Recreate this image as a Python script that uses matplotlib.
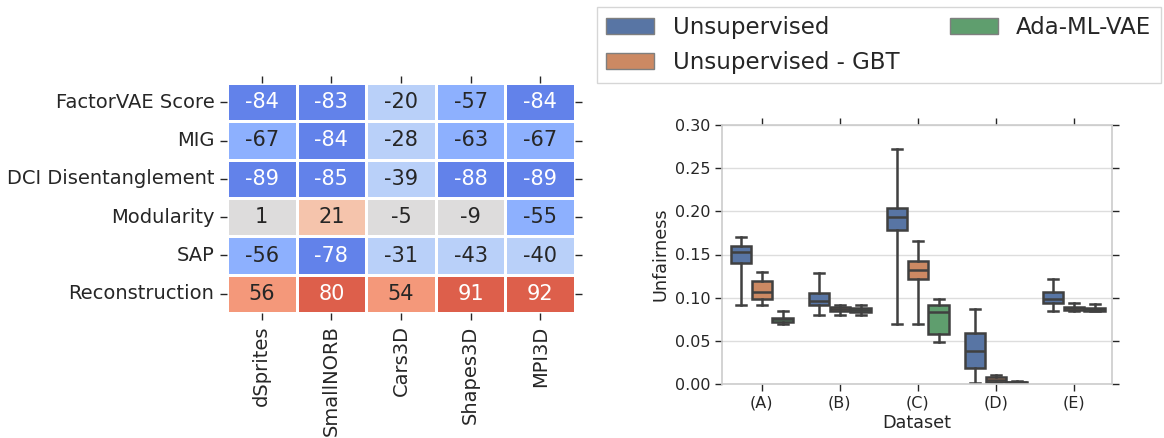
import matplotlib
matplotlib.use('Agg')
import matplotlib.pyplot as plt
import matplotlib.patches as mpatches
import numpy as np
import seaborn as sns

# Correlation (%) between unfairness and each metric, per dataset
metrics = ['FactorVAE Score', 'MIG', 'DCI Disentanglement', 'Modularity', 'SAP', 'Reconstruction']
datasets = ['dSprites', 'SmallNORB', 'Cars3D', 'Shapes3D', 'MPI3D']
corr = np.array([
    [-84, -83, -20, -57, -84],
    [-67, -84, -28, -63, -67],
    [-89, -85, -39, -88, -89],
    [1, 21, -5, -9, -55],
    [-56, -78, -31, -43, -40],
    [56, 80, 54, 91, 92],
])

# Unfairness box statistics per dataset group (A)-(E), one list per method
groups = ['(A)', '(B)', '(C)', '(D)', '(E)']
methods = ['Unsupervised', 'Unsupervised - GBT', 'Ada-ML-VAE']
whislo = [[0.092, 0.080, 0.069, 0.0015, 0.084],
          [0.092, 0.080, 0.069, 0.001, 0.084],
          [0.070, 0.080, 0.049, 0.001, 0.084]]
q1 = [[0.140, 0.091, 0.178, 0.018, 0.094],
      [0.099, 0.084, 0.1215, 0.0027, 0.0858],
      [0.072, 0.083, 0.058, 0.0015, 0.0846]]
med = [[0.153, 0.096, 0.193, 0.0385, 0.099],
       [0.1065, 0.087, 0.1315, 0.0046, 0.0877],
       [0.075, 0.086, 0.0835, 0.002, 0.0865]]
q3 = [[0.160, 0.105, 0.204, 0.0585, 0.106],
      [0.119, 0.0896, 0.143, 0.0077, 0.0896],
      [0.077, 0.088, 0.091, 0.0025, 0.0877]]
whishi = [[0.170, 0.128, 0.272, 0.087, 0.122],
          [0.130, 0.092, 0.166, 0.010, 0.094],
          [0.084, 0.091, 0.099, 0.003, 0.093]]

colors = ['#5875a4', '#cc8963', '#5f9e6e']
line_col = '#404040'
text_col = '#262626'

plt.rcParams['font.family'] = 'DejaVu Sans'
plt.rcParams['text.color'] = text_col
plt.rcParams['axes.labelcolor'] = text_col
plt.rcParams['xtick.color'] = text_col
plt.rcParams['ytick.color'] = text_col

fig = plt.figure(figsize=(11.64, 4.38), dpi=100)

# left: heatmap
ax1 = fig.add_axes([227 / 1164, 1 - 313 / 438, 348 / 1164, 230 / 438])
cmap = sns.color_palette('coolwarm', 7)
sns.heatmap(corr, ax=ax1, cmap=cmap, vmin=-105, vmax=105, annot=True, fmt='d',
            annot_kws={'fontsize': 15}, linewidths=2, linecolor='white',
            cbar=False, xticklabels=datasets, yticklabels=metrics)
ax1.tick_params(axis='both', which='both', direction='out', length=5, width=1,
                top=True, right=True, labeltop=False, labelright=False,
                labelsize=14, pad=4, color=text_col)
plt.setp(ax1.get_xticklabels(), rotation=90)
plt.setp(ax1.get_yticklabels(), rotation=0)

# right: box plots
ax2 = fig.add_axes([722 / 1164, 1 - 384 / 438, 390 / 1164, 259 / 438])
offsets = [-0.267, 0.0, 0.267]
box_w = 0.26
for m in range(len(methods)):
    stats = []
    for g in range(len(groups)):
        stats.append({'whislo': whislo[m][g], 'q1': q1[m][g], 'med': med[m][g],
                      'q3': q3[m][g], 'whishi': whishi[m][g], 'fliers': []})
    pos = np.arange(len(groups)) + offsets[m]
    ax2.bxp(stats, positions=pos, widths=box_w, capwidths=box_w / 2,
            patch_artist=True, showfliers=False,
            boxprops=dict(facecolor=colors[m], edgecolor=line_col, linewidth=1.8),
            medianprops=dict(color=line_col, linewidth=1.8),
            whiskerprops=dict(color=line_col, linewidth=1.8),
            capprops=dict(color=line_col, linewidth=1.8))

ax2.set_xlim(-0.51, 4.49)
ax2.set_ylim(0, 0.30)
ax2.set_xticks(np.arange(len(groups)))
ax2.set_xticklabels(groups)
ax2.set_yticks(np.arange(0, 0.31, 0.05))
ax2.set_yticklabels([f'{v:.2f}' for v in np.arange(0, 0.31, 0.05)])
ax2.yaxis.grid(True, color='#dddddd', linewidth=1)
ax2.set_axisbelow(True)
for s in ax2.spines.values():
    s.set_color('#cccccc')
    s.set_linewidth(1.2)
ax2.tick_params(axis='both', direction='out', length=5, width=1, top=True, right=True,
                labelsize=11.5, color=text_col)
ax2.set_xlabel('Dataset', fontsize=12.7, labelpad=2)
ax2.set_ylabel('Unfairness', fontsize=12.7)

handles = [mpatches.Patch(facecolor=c, edgecolor='#7f7f7f', label=l) for c, l in zip(colors, methods)]
leg = fig.legend(handles=handles, loc='upper left', bbox_to_anchor=(597 / 1164, 1 - 7 / 438),
                 ncol=2, fontsize=16.5, frameon=True, fancybox=False, borderaxespad=0,
                 handlelength=2.1, handletextpad=0.8, columnspacing=2.2, borderpad=0.4)
leg.get_frame().set_edgecolor('#cccccc')
leg.get_frame().set_linewidth(1)

fig.savefig('out.png', dpi=100)
